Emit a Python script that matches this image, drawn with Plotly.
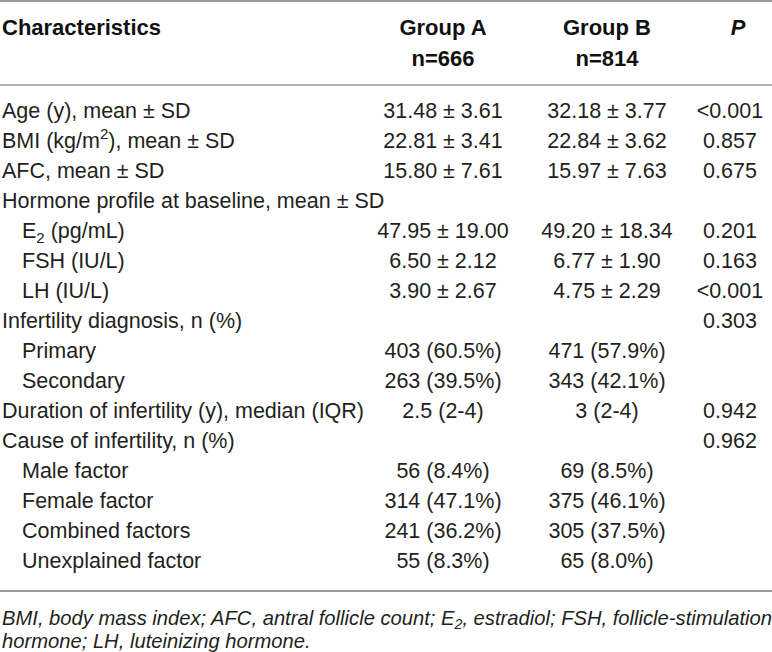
import plotly.graph_objects as go

# table content
header_1 = ["Characteristics", "Group A", "Group B", "<i>P</i>"]
header_2 = ["", "n=666", "n=814", ""]

labels = [
    "Age (y), mean ± SD",
    "BMI (kg/m<sup>2</sup>), mean ± SD",
    "AFC, mean ± SD",
    "Hormone profile at baseline, mean ± SD",
    "E<sub>2</sub> (pg/mL)",
    "FSH (IU/L)",
    "LH (IU/L)",
    "Infertility diagnosis, n (%)",
    "Primary",
    "Secondary",
    "Duration of infertility (y), median (IQR)",
    "Cause of infertility, n (%)",
    "Male factor",
    "Female factor",
    "Combined factors",
    "Unexplained factor",
]
indented = [False, False, False, False, True, True, True, False,
            True, True, False, False, True, True, True, True]

group_a = ["31.48 ± 3.61", "22.81 ± 3.41", "15.80 ± 7.61", "",
           "47.95 ± 19.00", "6.50 ± 2.12", "3.90 ± 2.67", "",
           "403 (60.5%)", "263 (39.5%)", "2.5 (2-4)", "",
           "56 (8.4%)", "314 (47.1%)", "241 (36.2%)", "55 (8.3%)"]
group_b = ["32.18 ± 3.77", "22.84 ± 3.62", "15.97 ± 7.63", "",
           "49.20 ± 18.34", "6.77 ± 1.90", "4.75 ± 2.29", "",
           "471 (57.9%)", "343 (42.1%)", "3 (2-4)", "",
           "69 (8.5%)", "375 (46.1%)", "305 (37.5%)", "65 (8.0%)"]
p_values = ["<0.001", "0.857", "0.675", "", "0.201", "0.163", "<0.001",
            "0.303", "", "", "0.942", "0.962", "", "", "", ""]

footnote_lines = [
    "<i>BMI, body mass index; AFC, antral follicle count; E<sub>2</sub>, "
    "estradiol; FSH, follicle-stimulation</i>",
    "<i>hormone; LH, luteinizing hormone.</i>",
]

W, H = 772, 652
FONT = "Liberation Sans, Arial, sans-serif"
TXT = "#231f20"

# layout of the rows (pixel-like units, y grows downward)
head_y = [29, 60]
body_top, row_gap = 113, 30
rule_top, rule_head, rule_bottom = 1, 85, 591
foot_y, foot_gap = 619, 22
col_x = {"label": 2, "indent": 22, "a": 443, "b": 607, "p": 730}
head_x = {"a": 443, "b": 607, "p": 738}

row_y = [body_top + i * row_gap for i in range(len(labels))]
label_x = [col_x["indent"] if ind else col_x["label"] for ind in indented]

fig = go.Figure()

font_body = dict(family=FONT, size=21.5, color=TXT)
font_head = dict(family=FONT, size=22, color="#111111")


def keep(xs, ys, ts):
    # drop the empty cells
    rows = [(x, y, t) for x, y, t in zip(xs, ys, ts) if t]
    return [r[0] for r in rows], [r[1] for r in rows], [r[2] for r in rows]


# header
fig.add_trace(go.Scatter(x=[col_x["label"]], y=[head_y[0]], mode="text",
                         text=["<b>" + header_1[0] + "</b>"], textposition="middle right",
                         textfont=font_head))
for key, t1, t2 in zip(["a", "b", "p"], header_1[1:], header_2[1:]):
    hx, hy, ht = keep([head_x[key]] * 2, head_y, [t1, t2])
    fig.add_trace(go.Scatter(x=hx, y=hy, mode="text",
                             text=["<b>" + t + "</b>" for t in ht],
                             textposition="middle center", textfont=font_head))

# body
fig.add_trace(go.Scatter(x=label_x, y=row_y, mode="text", text=labels,
                         textposition="middle right", textfont=font_body))
for key, vals in zip(["a", "b", "p"], [group_a, group_b, p_values]):
    vx, vy, vt = keep([col_x[key]] * len(vals), row_y, vals)
    fig.add_trace(go.Scatter(x=vx, y=vy, mode="text", text=vt,
                             textposition="middle center", textfont=font_body))

# horizontal rules
for y0, w in [(rule_top, 2), (rule_head, 1.5), (rule_bottom, 2)]:
    fig.add_shape(type="line", x0=0, x1=W, y0=y0, y1=y0, xref="x", yref="y",
                  line=dict(color="#999999", width=w))

# footnote
for i, line in enumerate(footnote_lines):
    fig.add_annotation(x=0, y=foot_y + i * foot_gap, xref="x", yref="y", text=line,
                       showarrow=False, xanchor="left", yanchor="middle", align="left",
                       font=dict(family=FONT, size=20.2, color=TXT))

fig.update_layout(
    width=W, height=H, showlegend=False,
    margin=dict(l=0, r=0, t=0, b=0),
    paper_bgcolor="white", plot_bgcolor="white",
    xaxis=dict(range=[0, W], visible=False, fixedrange=True),
    yaxis=dict(range=[H, 0], visible=False, fixedrange=True),
    hovermode=False,
)

fig.write_html("out.html", config={"displayModeBar": False},
               post_script="document.body.style.margin='0';document.body.style.overflow='hidden';")
